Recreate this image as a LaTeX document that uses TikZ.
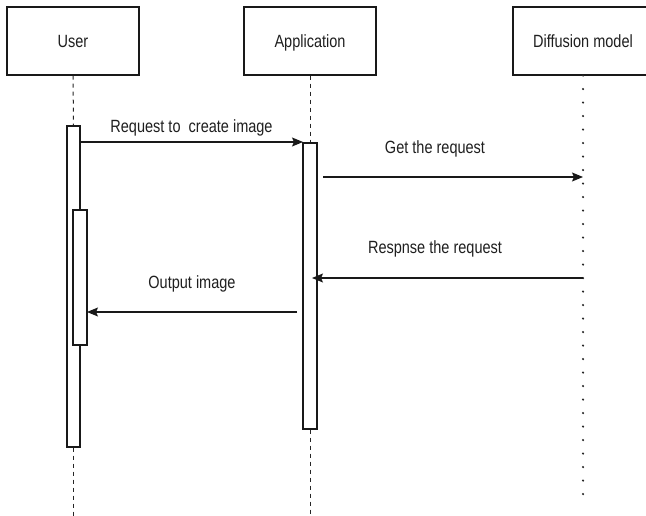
\documentclass[tikz,border=0pt]{standalone}
\usepackage{fontspec}
\setmainfont{Liberation Sans}
\usetikzlibrary{arrows.meta}
\newcommand{\lbl}[1]{\scalebox{0.82}[1]{\fontsize{17.7}{20}\selectfont #1}}
\tikzset{
  actor/.style={draw=black!90, line width=1.2pt, fill=white, minimum height=68pt, inner sep=0pt,
    text height=12.7pt, text depth=0pt, text=black!88},
  bar/.style={draw=black!90, line width=1.1pt, fill=white, inner sep=0pt},
  life/.style={black!85, line width=1pt, dash pattern=on 4pt off 4pt},
  dots/.style={black!85, line width=2.3pt, line cap=round, dash pattern=on 0pt off 13.5pt},
  msg/.style={black!90, line width=1.2pt, -{Stealth[length=11pt,width=9pt,inset=2pt]}},
  txt/.style={inner sep=0pt, anchor=base, text=black!88}
}
\begin{document}
\begin{tikzpicture}[x=1pt,y=-1pt]
\useasboundingbox[fill=white] (0,0) rectangle (646,516);

% participants
\node[actor, minimum width=132pt] (user) at (73,41) {\lbl{User}};
\node[actor, minimum width=132pt] (app) at (310,41) {\lbl{Application}};
\node[actor, minimum width=140pt] (diff) at (583,41) {\lbl{Diffusion model}};

% lifeline ends
\coordinate (userend) at (73.5,516);
\coordinate (append) at (310,516);
\coordinate (diffend) at (583,496);

% activation bars
\node[bar, minimum width=13pt, minimum height=321pt] (ub1) at (73.5,286.5) {};
\node[bar, minimum width=14pt, minimum height=135pt] (ub2) at (80,277.5) {};
\node[bar, minimum width=14pt, minimum height=286pt] (ab) at (310,286) {};

\draw[life] (user.south) -- (ub1.north);
\draw[life] (ub1.south) -- (userend);
\draw[life] (app.south) -- (ab.north);
\draw[life] (ab.south) -- (append);
\draw[dots] (diff.south) -- (diffend);

% message anchors
\coordinate (m1s) at (80,142);
\coordinate (m1e) at (303,142);
\coordinate (m2s) at (323,177);
\coordinate (m2e) at (583,177);
\coordinate (m3s) at (583,278);
\coordinate (m3e) at (312,278);
\coordinate (m4s) at (297,312);
\coordinate (m4e) at (87,312);

% messages
\draw[msg] (m1s) -- (m1e);
\draw[msg] (m2s) -- (m2e);
\draw[msg] (m3s) -- (m3e);
\draw[msg] (m4s) -- (m4e);

% message labels (placed on their baselines)
\node[txt] (l1) at (191.5,133) {\lbl{Request to\ \ create image}};
\node[txt] (l2) at (435,154) {\lbl{Get the request}};
\node[txt] (l3) at (435,254) {\lbl{Respnse the request}};
\node[txt] (l4) at (192,288) {\lbl{Output image}};
\end{tikzpicture}
\end{document}
